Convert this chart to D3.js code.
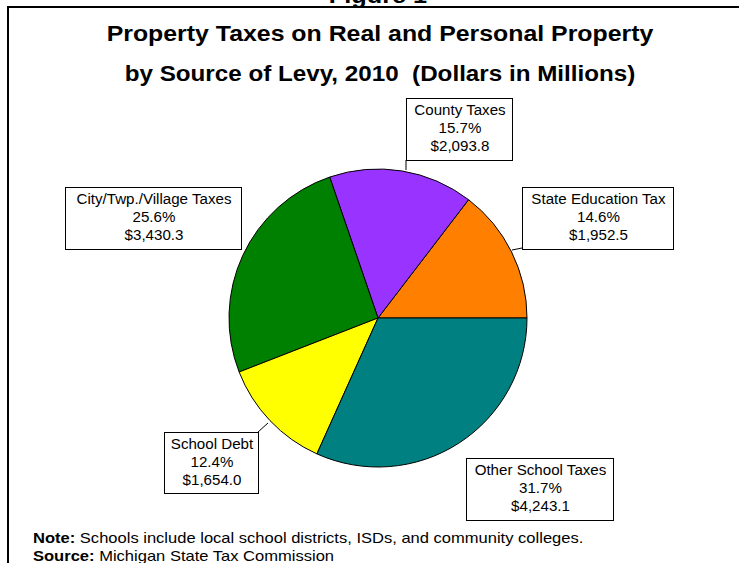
<!DOCTYPE html>
<html>
<head>
<meta charset="utf-8">
<script src="https://cdn.jsdelivr.net/npm/d3@7"></script>
<style>
  body { margin: 0; background: #fff; }
  svg { display: block; font-family: "Liberation Sans", Arial, sans-serif; }
</style>
</head>
<body>
<svg id="chart" width="739" height="563"></svg>
<script>
// slices, counter-clockwise from 3 o'clock
const categories = ["State Education Tax", "County Taxes", "City/Twp./Village Taxes", "School Debt", "Other School Taxes"];
const percents = ["14.6%", "15.7%", "25.6%", "12.4%", "31.7%"];
const amounts = [1952.5, 2093.8, 3430.3, 1654.0, 4243.1];
const colors = ["#ff8000", "#9933ff", "#008000", "#ffff00", "#008080"];

// label box positions (x, y, w, h) and leader line
const boxes = [
  { x: 522, y: 187, w: 151, h: 62, lx: 522, ly: 248, tx: 512, ty: 250 },
  { x: 406, y: 98, w: 106, h: 62, lx: 406, ly: 160, tx: 406, ty: 170 },
  { x: 65, y: 187, w: 176, h: 62, lx: null },
  { x: 164, y: 432, w: 94, h: 61, lx: 258, ly: 432, tx: 268, ty: 423 },
  { x: 466, y: 458, w: 147, h: 62, lx: 466, ly: 458, tx: 457, ty: 449 }
];

const svg = d3.select("#chart");
const fmt = d3.format(",.1f");

// the source font runs wider than Liberation Sans at the same height
function stretch(sel, k) {
  sel.each(function() {
    const len = this.getComputedTextLength();
    d3.select(this).attr("textLength", len * k).attr("lengthAdjust", "spacingAndGlyphs");
  });
}

// frame
svg.append("path")
  .attr("d", "M8,563 V7 H739")
  .attr("fill", "none")
  .attr("stroke", "#000")
  .attr("stroke-width", 2);

svg.append("text")
  .attr("x", 378).attr("y", 3)
  .attr("text-anchor", "middle")
  .attr("font-size", 22).attr("font-weight", "bold")
  .text("Figure 1")
  .call(stretch, 1.15);

svg.append("text")
  .attr("x", 380).attr("y", 41)
  .attr("text-anchor", "middle")
  .attr("font-size", 22).attr("font-weight", "bold")
  .text("Property Taxes on Real and Personal Property")
  .call(stretch, 1.13);

svg.append("text")
  .attr("x", 380).attr("y", 81)
  .attr("text-anchor", "middle")
  .attr("font-size", 22).attr("font-weight", "bold")
  .attr("xml:space", "preserve")
  .text("by Source of Levy, 2010  (Dollars in Millions)")
  .call(stretch, 1.1);

const cx = 378, cy = 318, r = 149;

const pie = d3.pie()
  .sort(null)
  .value(d => d)
  .startAngle(Math.PI / 2)
  .endAngle(Math.PI / 2 - 2 * Math.PI);

const arc = d3.arc().innerRadius(0).outerRadius(r);

const g = svg.append("g").attr("transform", `translate(${cx},${cy})`);

g.selectAll("path")
  .data(pie(amounts))
  .enter()
  .append("path")
  .attr("d", arc)
  .attr("fill", (d, i) => colors[i])
  .attr("stroke", "#000")
  .attr("stroke-width", 1);

// labels
const lab = svg.selectAll(".lab")
  .data(categories)
  .enter()
  .append("g")
  .attr("class", "lab");

lab.filter((d, i) => boxes[i].lx !== null)
  .append("line")
  .attr("x1", (d, i) => boxes[i].lx)
  .attr("y1", (d, i) => boxes[i].ly)
  .attr("x2", (d, i) => boxes[i].tx)
  .attr("y2", (d, i) => boxes[i].ty)
  .attr("stroke", "#000");

lab.append("rect")
  .attr("x", (d, i) => boxes[i].x + 0.5)
  .attr("y", (d, i) => boxes[i].y + 0.5)
  .attr("width", (d, i) => boxes[i].w)
  .attr("height", (d, i) => boxes[i].h)
  .attr("fill", "#fff")
  .attr("stroke", "#000");

lab.each(function(d, i) {
  const b = boxes[i];
  const lines = [d, percents[i], "$" + fmt(amounts[i])];
  d3.select(this).selectAll("text")
    .data(lines)
    .enter()
    .append("text")
    .attr("x", b.x + b.w / 2 + 1)
    .attr("y", (t, j) => b.y + 17 + j * 18)
    .attr("text-anchor", "middle")
    .attr("font-size", 14)
    .text(t => t)
    .call(stretch, 1.08);
});

// note and source
const note = svg.append("text").attr("x", 33).attr("y", 543).attr("font-size", 14.5);
note.append("tspan").attr("font-weight", "bold").text("Note:");
note.append("tspan").text(" Schools include local school districts, ISDs, and community colleges.");
note.call(stretch, 1.14);

const src = svg.append("text").attr("x", 33).attr("y", 561).attr("font-size", 14.5);
src.append("tspan").attr("font-weight", "bold").text("Source:");
src.append("tspan").text(" Michigan State Tax Commission");
src.call(stretch, 1.14);
</script>
</body>
</html>
